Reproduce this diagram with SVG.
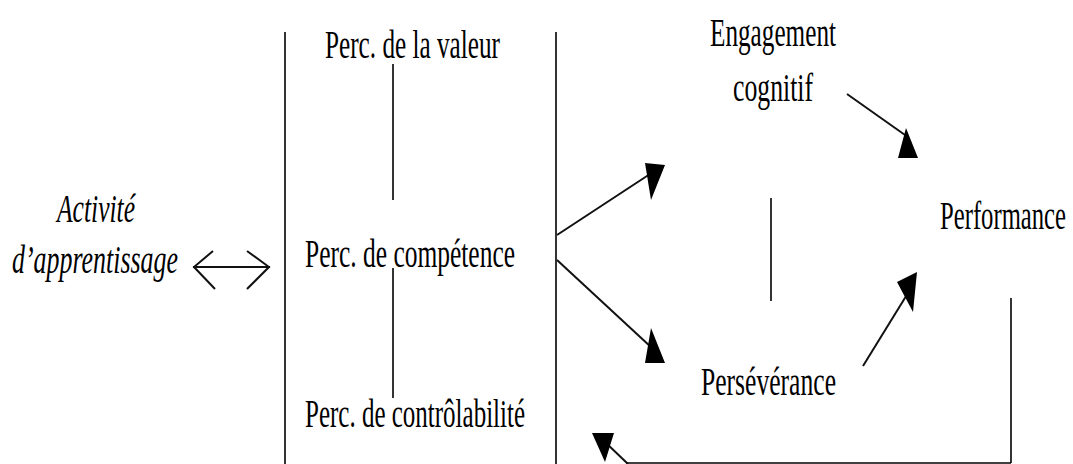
<svg xmlns="http://www.w3.org/2000/svg" width="1073" height="464" viewBox="0 0 1073 464">
<style>
.t{font-family:"Liberation Serif","Times New Roman",serif;font-size:40px;fill:#000}
.i{font-style:italic}
.ln{stroke:#000;stroke-width:1.6;fill:none}
.cn{stroke:#111;stroke-width:2;fill:none}
.hd{fill:#000;stroke:none}
</style>
<rect width="1073" height="464" fill="#fff"/>
<g id="activite">
<text class="t i" x="57" y="222" textLength="78" lengthAdjust="spacingAndGlyphs">Activité</text>
<text class="t i" x="12" y="273" textLength="166" lengthAdjust="spacingAndGlyphs">d’apprentissage</text>
</g>
<g id="perceptions">
<line class="ln" x1="285" y1="32" x2="285" y2="464"/>
<line class="ln" x1="556" y1="32" x2="556" y2="464"/>
<text class="t" x="325" y="58" textLength="175" lengthAdjust="spacingAndGlyphs">Perc. de la valeur</text>
<text class="t" x="305" y="267" textLength="210" lengthAdjust="spacingAndGlyphs">Perc. de compétence</text>
<text class="t" x="305" y="427" textLength="220" lengthAdjust="spacingAndGlyphs">Perc. de contrôlabilité</text>
<line class="ln" x1="393" y1="64" x2="393" y2="200"/>
<line class="ln" x1="393" y1="268" x2="393" y2="398"/>
</g>
<g id="engagement">
<text class="t" x="710" y="46" textLength="126" lengthAdjust="spacingAndGlyphs">Engagement</text>
<text class="t" x="733" y="101" textLength="80" lengthAdjust="spacingAndGlyphs">cognitif</text>
</g>
<g id="perseverance">
<text class="t" x="701" y="395" textLength="135" lengthAdjust="spacingAndGlyphs">Persévérance</text>
</g>
<g id="performance">
<text class="t" x="940" y="229" textLength="126" lengthAdjust="spacingAndGlyphs">Performance</text>
</g>
<g id="connectors">
<line class="ln" x1="771" y1="198" x2="771" y2="301"/>
<line class="ln" x1="1011" y1="298" x2="1011" y2="463"/>
<line class="ln" x1="626" y1="463" x2="1011" y2="463"/>
<line class="cn" x1="193" y1="267" x2="270" y2="267"/>
<polyline class="cn" points="213,251 194,267 215,289"/>
<polyline class="cn" points="247,251 269,267 247,289"/>
<line class="cn" x1="557" y1="235" x2="650" y2="174"/>
<polygon class="hd" points="645,163 665,165 651,200"/>
<line class="cn" x1="557" y1="260" x2="652" y2="348"/>
<polygon class="hd" points="651,328 645,363 665,363"/>
<line class="cn" x1="847" y1="94" x2="905" y2="135"/>
<polygon class="hd" points="906,128 898,158 918,158"/>
<line class="cn" x1="863" y1="366" x2="908" y2="293"/>
<polygon class="hd" points="917,272 897,282 913,312"/>
<line class="cn" x1="628" y1="464" x2="605" y2="442"/>
<polygon class="hd" points="592,433 614,433 605,462"/>
</g>
</svg>
